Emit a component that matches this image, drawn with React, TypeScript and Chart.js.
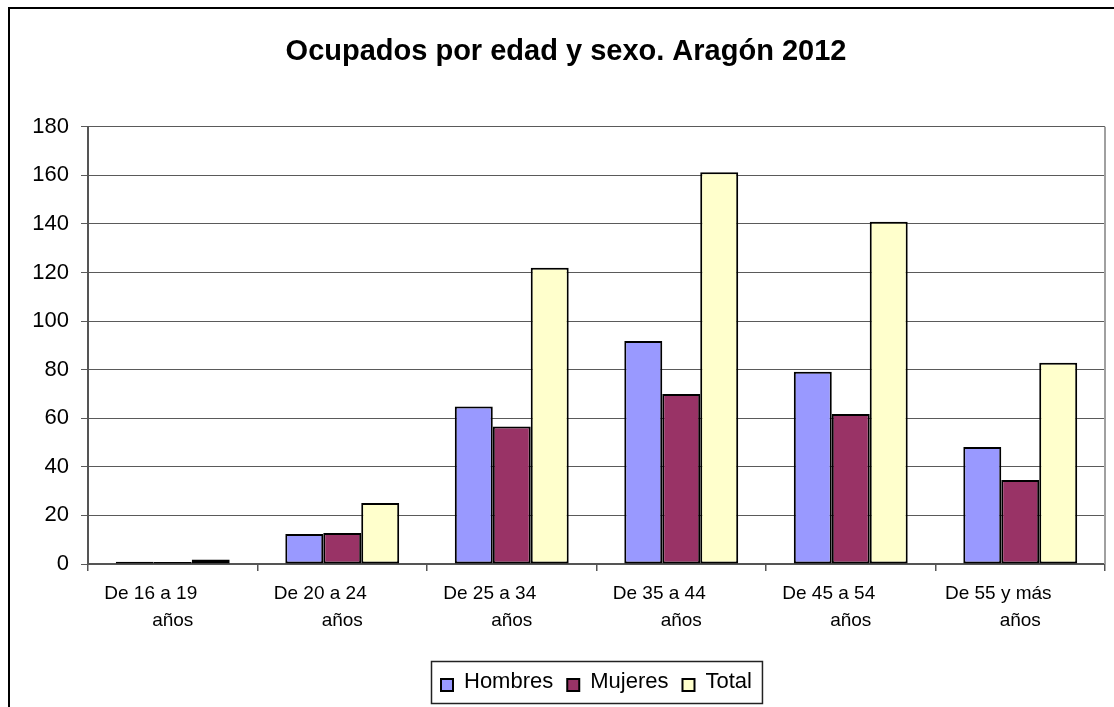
import React, { useEffect, useRef } from "react";
import { Chart, registerables } from "chart.js";

Chart.register(...registerables);

const chartTitle = "Ocupados por edad y sexo. Aragón 2012";
const categories: string[][] = [
  ["De 16 a 19", "años"],
  ["De 20 a 24", "años"],
  ["De 25 a 34", "años"],
  ["De 35 a 44", "años"],
  ["De 45 a 54", "años"],
  ["De 55 y más", "años"],
];
const seriesNames = ["Hombres", "Mujeres", "Total"];
const seriesColors = ["#9999FF", "#993366", "#FFFFCC"];
const hombres = [0.9, 12.4, 64.8, 91.8, 79.2, 48.2];
const mujeres = [0.8, 12.8, 56.6, 70.0, 61.8, 34.6];
const total = [1.9, 25.1, 122.0, 161.3, 140.9, 82.9];
const yMin = 0;
const yMax = 180;
const yStep = 20;

const FONT = "'Liberation Sans', Arial, sans-serif";

const decorPlugin = {
  id: "decor",
  beforeDraw(chart: any) {
    const ctx = chart.ctx;
    ctx.save();
    ctx.fillStyle = "#ffffff";
    ctx.fillRect(0, 0, chart.width, chart.height);
    ctx.strokeStyle = "#000000";
    ctx.lineWidth = 2;
    ctx.strokeRect(9, 8, chart.width + 40, chart.height + 40);
    ctx.restore();
  },
  afterDraw(chart: any) {
    const { ctx, chartArea } = chart;
    const xs = chart.scales.x;
    ctx.save();
    // right border of plot area
    ctx.strokeStyle = "#a0a0a0";
    ctx.lineWidth = 2;
    ctx.beginPath();
    ctx.moveTo(chartArea.right, chartArea.top);
    ctx.lineTo(chartArea.right, chartArea.bottom);
    ctx.stroke();

    // category labels
    ctx.fillStyle = "#000000";
    ctx.font = `19px ${FONT}`;
    ctx.textAlign = "center";
    ctx.textBaseline = "alphabetic";
    (chart.data.labels as any[]).forEach((lab, i) => {
      const cx = xs.getPixelForValue(i);
      const lines = Array.isArray(lab) ? lab : [lab];
      ctx.fillText(lines[0], cx - 22, chartArea.bottom + 35);
      if (lines[1]) ctx.fillText(lines[1], cx, chartArea.bottom + 62);
    });

    // legend
    ctx.font = `22px ${FONT}`;
    const sq = 12;
    const gapText = 11;
    const gapItem = 14;
    const padX = 10;
    const items = chart.data.datasets.map((d: any) => ({
      label: d.label,
      color: d.backgroundColor,
      w: ctx.measureText(d.label).width,
    }));
    let totalW = padX * 2;
    items.forEach((it: any, i: number) => {
      totalW += sq + gapText + it.w + (i < items.length - 1 ? gapItem : 0);
    });
    const centerX = (chartArea.left + chartArea.right) / 2;
    const boxLeft = Math.round(centerX - totalW / 2);
    const boxTop = chartArea.bottom + 97;
    const boxH = 42;
    ctx.strokeStyle = "#222222";
    ctx.lineWidth = 1.5;
    ctx.strokeRect(boxLeft + 0.5, boxTop + 0.5, totalW, boxH);
    let x = boxLeft + padX;
    const sqTop = boxTop + 18;
    ctx.textAlign = "left";
    items.forEach((it: any) => {
      ctx.fillStyle = it.color;
      ctx.fillRect(x, sqTop, sq, sq);
      ctx.strokeStyle = "#000000";
      ctx.lineWidth = 2;
      ctx.strokeRect(x, sqTop, sq, sq);
      ctx.fillStyle = "#000000";
      ctx.fillText(it.label, x + sq + gapText, boxTop + 27);
      x += sq + gapText + it.w + gapItem;
    });
    ctx.restore();
  },
};

export default function App() {
  const canvasRef = useRef<HTMLCanvasElement | null>(null);

  useEffect(() => {
    if (!canvasRef.current) return;
    const seriesData = [hombres, mujeres, total];
    const chart = new Chart(canvasRef.current, {
      type: "bar",
      data: {
        labels: categories,
        datasets: seriesNames.map((name, i) => ({
          label: name,
          data: seriesData[i],
          backgroundColor: seriesColors[i],
          borderColor: "#000000",
          borderWidth: 2,
          borderSkipped: false,
          barPercentage: 1,
          categoryPercentage: 0.672,
        })),
      },
      options: {
        responsive: false,
        animation: false,
        devicePixelRatio: 1,
        events: [],
        layout: { padding: { left: 27, right: 9, top: 0, bottom: 63 } },
        plugins: {
          legend: { display: false },
          tooltip: { enabled: false },
          title: {
            display: true,
            text: chartTitle,
            color: "#000000",
            font: { family: FONT, size: 29, weight: "bold", lineHeight: 1.2 },
            padding: { top: 35, bottom: 57 },
          },
        },
        scales: {
          x: {
            grid: {
              display: true,
              drawOnChartArea: false,
              drawTicks: true,
              tickLength: 7,
              color: "#555555",
              lineWidth: 1.5,
              offset: true,
            },
            border: { display: true, color: "#555555", width: 2 },
            ticks: { display: false },
            afterFit: (scale: any) => {
              scale.height = 80;
            },
          },
          y: {
            min: yMin,
            max: yMax,
            grid: {
              color: "#5a5a5a",
              lineWidth: 1,
              drawTicks: true,
              tickLength: 7,
            },
            border: { display: true, color: "#555555", width: 2 },
            ticks: {
              stepSize: yStep,
              color: "#000000",
              padding: 12,
              font: { family: FONT, size: 22 },
            },
            afterFit: (scale: any) => {
              scale.width = 61;
            },
          },
        },
      },
      plugins: [decorPlugin],
    });
    return () => chart.destroy();
  }, []);

  return (
    <div style={{ position: "fixed", left: 0, top: 0, width: 1114, height: 707, overflow: "hidden" }}>
      <canvas ref={canvasRef} width={1114} height={707} style={{ display: "block" }} />
    </div>
  );
}
